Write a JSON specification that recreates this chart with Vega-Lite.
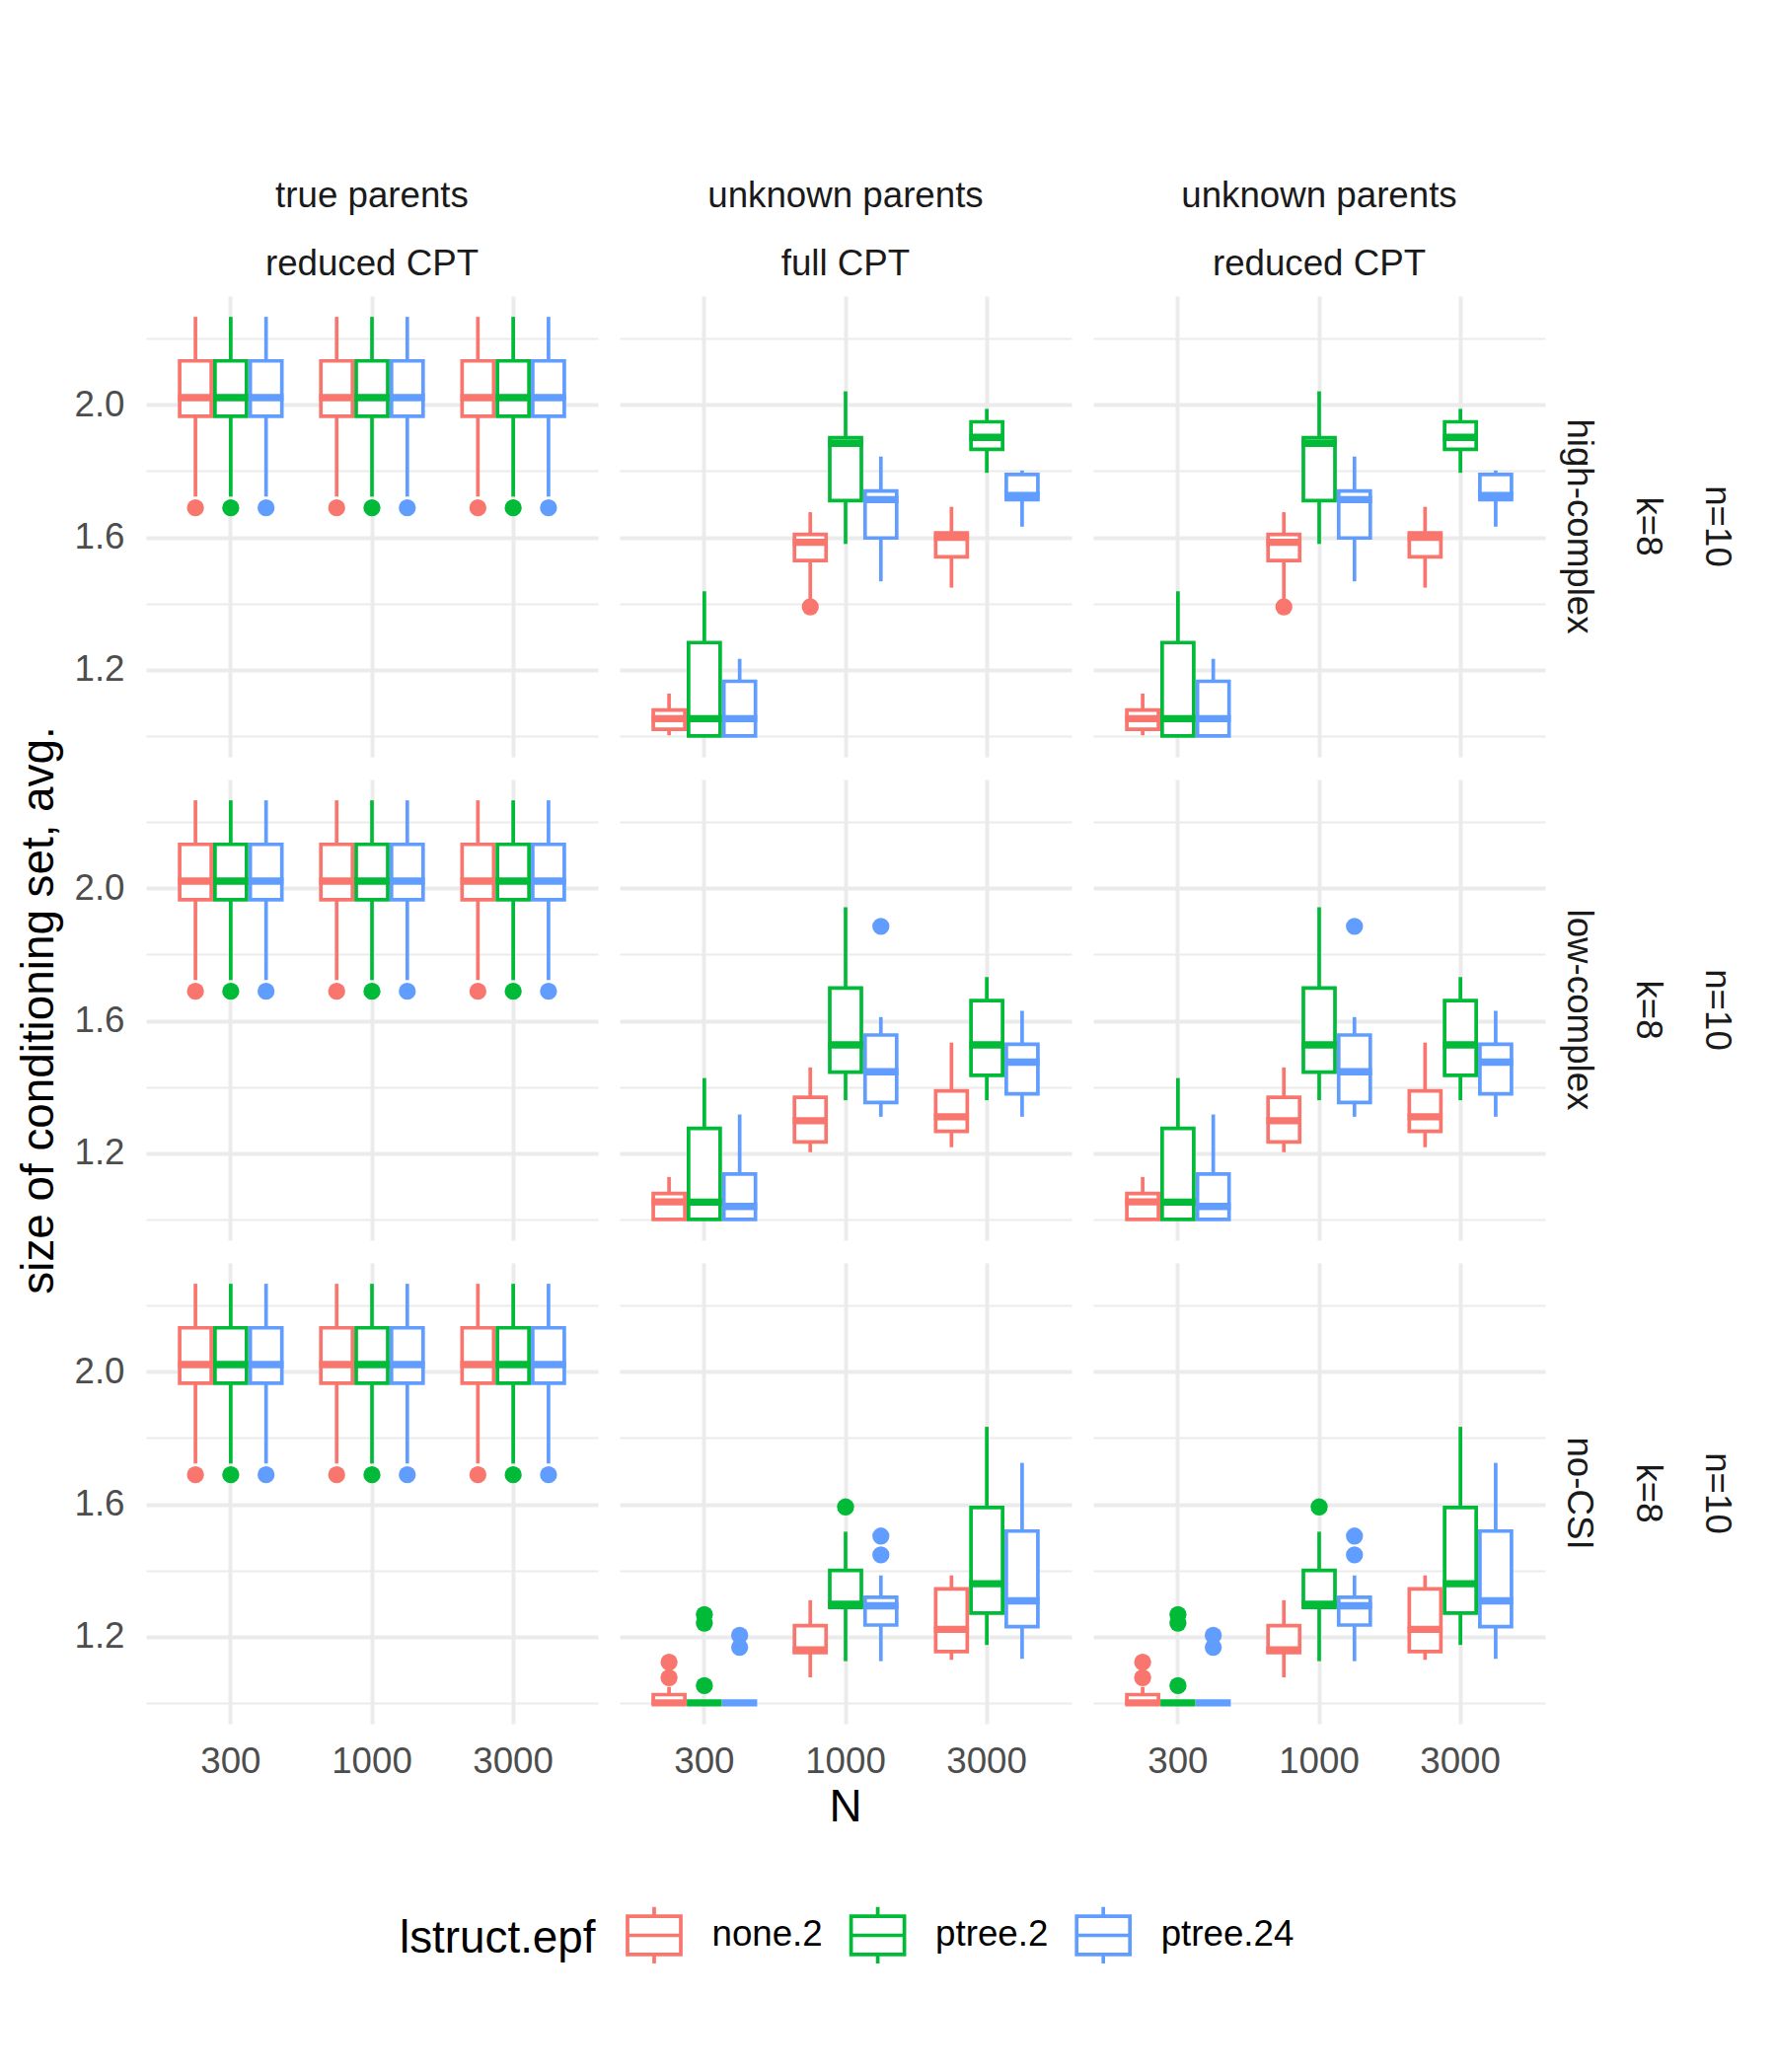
{
"$schema": "https://vega.github.io/schema/vega-lite/v6.json",
"padding": {"left": 16, "top": 180, "right": 5, "bottom": 5},
"background": "white",
"data": {"values": [
{"r":"high-complex","c":"true parents|reduced CPT","n":"300","g":"none.2","lo":1.723,"q1":1.966,"md":2.022,"q3":2.133,"hi":2.266},
{"r":"high-complex","c":"true parents|reduced CPT","n":"300","g":"ptree.2","lo":1.723,"q1":1.966,"md":2.022,"q3":2.133,"hi":2.266},
{"r":"high-complex","c":"true parents|reduced CPT","n":"300","g":"ptree.24","lo":1.723,"q1":1.966,"md":2.022,"q3":2.133,"hi":2.266},
{"r":"high-complex","c":"true parents|reduced CPT","n":"1000","g":"none.2","lo":1.723,"q1":1.966,"md":2.022,"q3":2.133,"hi":2.266},
{"r":"high-complex","c":"true parents|reduced CPT","n":"1000","g":"ptree.2","lo":1.723,"q1":1.966,"md":2.022,"q3":2.133,"hi":2.266},
{"r":"high-complex","c":"true parents|reduced CPT","n":"1000","g":"ptree.24","lo":1.723,"q1":1.966,"md":2.022,"q3":2.133,"hi":2.266},
{"r":"high-complex","c":"true parents|reduced CPT","n":"3000","g":"none.2","lo":1.723,"q1":1.966,"md":2.022,"q3":2.133,"hi":2.266},
{"r":"high-complex","c":"true parents|reduced CPT","n":"3000","g":"ptree.2","lo":1.723,"q1":1.966,"md":2.022,"q3":2.133,"hi":2.266},
{"r":"high-complex","c":"true parents|reduced CPT","n":"3000","g":"ptree.24","lo":1.723,"q1":1.966,"md":2.022,"q3":2.133,"hi":2.266},
{"r":"low-complex","c":"true parents|reduced CPT","n":"300","g":"none.2","lo":1.723,"q1":1.966,"md":2.022,"q3":2.133,"hi":2.266},
{"r":"low-complex","c":"true parents|reduced CPT","n":"300","g":"ptree.2","lo":1.723,"q1":1.966,"md":2.022,"q3":2.133,"hi":2.266},
{"r":"low-complex","c":"true parents|reduced CPT","n":"300","g":"ptree.24","lo":1.723,"q1":1.966,"md":2.022,"q3":2.133,"hi":2.266},
{"r":"low-complex","c":"true parents|reduced CPT","n":"1000","g":"none.2","lo":1.723,"q1":1.966,"md":2.022,"q3":2.133,"hi":2.266},
{"r":"low-complex","c":"true parents|reduced CPT","n":"1000","g":"ptree.2","lo":1.723,"q1":1.966,"md":2.022,"q3":2.133,"hi":2.266},
{"r":"low-complex","c":"true parents|reduced CPT","n":"1000","g":"ptree.24","lo":1.723,"q1":1.966,"md":2.022,"q3":2.133,"hi":2.266},
{"r":"low-complex","c":"true parents|reduced CPT","n":"3000","g":"none.2","lo":1.723,"q1":1.966,"md":2.022,"q3":2.133,"hi":2.266},
{"r":"low-complex","c":"true parents|reduced CPT","n":"3000","g":"ptree.2","lo":1.723,"q1":1.966,"md":2.022,"q3":2.133,"hi":2.266},
{"r":"low-complex","c":"true parents|reduced CPT","n":"3000","g":"ptree.24","lo":1.723,"q1":1.966,"md":2.022,"q3":2.133,"hi":2.266},
{"r":"no-CSI","c":"true parents|reduced CPT","n":"300","g":"none.2","lo":1.723,"q1":1.966,"md":2.022,"q3":2.133,"hi":2.266},
{"r":"no-CSI","c":"true parents|reduced CPT","n":"300","g":"ptree.2","lo":1.723,"q1":1.966,"md":2.022,"q3":2.133,"hi":2.266},
{"r":"no-CSI","c":"true parents|reduced CPT","n":"300","g":"ptree.24","lo":1.723,"q1":1.966,"md":2.022,"q3":2.133,"hi":2.266},
{"r":"no-CSI","c":"true parents|reduced CPT","n":"1000","g":"none.2","lo":1.723,"q1":1.966,"md":2.022,"q3":2.133,"hi":2.266},
{"r":"no-CSI","c":"true parents|reduced CPT","n":"1000","g":"ptree.2","lo":1.723,"q1":1.966,"md":2.022,"q3":2.133,"hi":2.266},
{"r":"no-CSI","c":"true parents|reduced CPT","n":"1000","g":"ptree.24","lo":1.723,"q1":1.966,"md":2.022,"q3":2.133,"hi":2.266},
{"r":"no-CSI","c":"true parents|reduced CPT","n":"3000","g":"none.2","lo":1.723,"q1":1.966,"md":2.022,"q3":2.133,"hi":2.266},
{"r":"no-CSI","c":"true parents|reduced CPT","n":"3000","g":"ptree.2","lo":1.723,"q1":1.966,"md":2.022,"q3":2.133,"hi":2.266},
{"r":"no-CSI","c":"true parents|reduced CPT","n":"3000","g":"ptree.24","lo":1.723,"q1":1.966,"md":2.022,"q3":2.133,"hi":2.266},
{"r":"high-complex","c":"true parents|reduced CPT","n":"300","g":"none.2","v":1.689},
{"r":"high-complex","c":"true parents|reduced CPT","n":"300","g":"ptree.2","v":1.689},
{"r":"high-complex","c":"true parents|reduced CPT","n":"300","g":"ptree.24","v":1.689},
{"r":"high-complex","c":"true parents|reduced CPT","n":"1000","g":"none.2","v":1.689},
{"r":"high-complex","c":"true parents|reduced CPT","n":"1000","g":"ptree.2","v":1.689},
{"r":"high-complex","c":"true parents|reduced CPT","n":"1000","g":"ptree.24","v":1.689},
{"r":"high-complex","c":"true parents|reduced CPT","n":"3000","g":"none.2","v":1.689},
{"r":"high-complex","c":"true parents|reduced CPT","n":"3000","g":"ptree.2","v":1.689},
{"r":"high-complex","c":"true parents|reduced CPT","n":"3000","g":"ptree.24","v":1.689},
{"r":"low-complex","c":"true parents|reduced CPT","n":"300","g":"none.2","v":1.689},
{"r":"low-complex","c":"true parents|reduced CPT","n":"300","g":"ptree.2","v":1.689},
{"r":"low-complex","c":"true parents|reduced CPT","n":"300","g":"ptree.24","v":1.689},
{"r":"low-complex","c":"true parents|reduced CPT","n":"1000","g":"none.2","v":1.689},
{"r":"low-complex","c":"true parents|reduced CPT","n":"1000","g":"ptree.2","v":1.689},
{"r":"low-complex","c":"true parents|reduced CPT","n":"1000","g":"ptree.24","v":1.689},
{"r":"low-complex","c":"true parents|reduced CPT","n":"3000","g":"none.2","v":1.689},
{"r":"low-complex","c":"true parents|reduced CPT","n":"3000","g":"ptree.2","v":1.689},
{"r":"low-complex","c":"true parents|reduced CPT","n":"3000","g":"ptree.24","v":1.689},
{"r":"no-CSI","c":"true parents|reduced CPT","n":"300","g":"none.2","v":1.689},
{"r":"no-CSI","c":"true parents|reduced CPT","n":"300","g":"ptree.2","v":1.689},
{"r":"no-CSI","c":"true parents|reduced CPT","n":"300","g":"ptree.24","v":1.689},
{"r":"no-CSI","c":"true parents|reduced CPT","n":"1000","g":"none.2","v":1.689},
{"r":"no-CSI","c":"true parents|reduced CPT","n":"1000","g":"ptree.2","v":1.689},
{"r":"no-CSI","c":"true parents|reduced CPT","n":"1000","g":"ptree.24","v":1.689},
{"r":"no-CSI","c":"true parents|reduced CPT","n":"3000","g":"none.2","v":1.689},
{"r":"no-CSI","c":"true parents|reduced CPT","n":"3000","g":"ptree.2","v":1.689},
{"r":"no-CSI","c":"true parents|reduced CPT","n":"3000","g":"ptree.24","v":1.689},

{"r":"high-complex","c":"unknown parents|full CPT","n":"300","g":"none.2","lo":1.002,"q1":1.02,"md":1.052,"q3":1.078,"hi":1.128},
{"r":"high-complex","c":"unknown parents|full CPT","n":"300","g":"ptree.2","lo":1.0,"q1":1.0,"md":1.052,"q3":1.282,"hi":1.437},
{"r":"high-complex","c":"unknown parents|full CPT","n":"300","g":"ptree.24","lo":1.0,"q1":1.0,"md":1.052,"q3":1.165,"hi":1.233},
{"r":"high-complex","c":"unknown parents|full CPT","n":"1000","g":"none.2","lo":1.414,"q1":1.53,"md":1.585,"q3":1.609,"hi":1.676},
{"r":"high-complex","c":"unknown parents|full CPT","n":"1000","g":"ptree.2","lo":1.58,"q1":1.711,"md":1.884,"q3":1.901,"hi":2.041},
{"r":"high-complex","c":"unknown parents|full CPT","n":"1000","g":"ptree.24","lo":1.467,"q1":1.598,"md":1.714,"q3":1.74,"hi":1.844},
{"r":"high-complex","c":"unknown parents|full CPT","n":"3000","g":"none.2","lo":1.448,"q1":1.541,"md":1.6,"q3":1.613,"hi":1.692},
{"r":"high-complex","c":"unknown parents|full CPT","n":"3000","g":"ptree.2","lo":1.795,"q1":1.866,"md":1.902,"q3":1.949,"hi":1.988},
{"r":"high-complex","c":"unknown parents|full CPT","n":"3000","g":"ptree.24","lo":1.632,"q1":1.714,"md":1.726,"q3":1.79,"hi":1.802},
{"r":"high-complex","c":"unknown parents|full CPT","n":"1000","g":"none.2","v":1.39},
{"r":"high-complex","c":"unknown parents|reduced CPT","n":"300","g":"none.2","lo":1.002,"q1":1.02,"md":1.052,"q3":1.078,"hi":1.128},
{"r":"high-complex","c":"unknown parents|reduced CPT","n":"300","g":"ptree.2","lo":1.0,"q1":1.0,"md":1.052,"q3":1.282,"hi":1.437},
{"r":"high-complex","c":"unknown parents|reduced CPT","n":"300","g":"ptree.24","lo":1.0,"q1":1.0,"md":1.052,"q3":1.165,"hi":1.233},
{"r":"high-complex","c":"unknown parents|reduced CPT","n":"1000","g":"none.2","lo":1.414,"q1":1.53,"md":1.585,"q3":1.609,"hi":1.676},
{"r":"high-complex","c":"unknown parents|reduced CPT","n":"1000","g":"ptree.2","lo":1.58,"q1":1.711,"md":1.884,"q3":1.901,"hi":2.041},
{"r":"high-complex","c":"unknown parents|reduced CPT","n":"1000","g":"ptree.24","lo":1.467,"q1":1.598,"md":1.714,"q3":1.74,"hi":1.844},
{"r":"high-complex","c":"unknown parents|reduced CPT","n":"3000","g":"none.2","lo":1.448,"q1":1.541,"md":1.6,"q3":1.613,"hi":1.692},
{"r":"high-complex","c":"unknown parents|reduced CPT","n":"3000","g":"ptree.2","lo":1.795,"q1":1.866,"md":1.902,"q3":1.949,"hi":1.988},
{"r":"high-complex","c":"unknown parents|reduced CPT","n":"3000","g":"ptree.24","lo":1.632,"q1":1.714,"md":1.726,"q3":1.79,"hi":1.802},
{"r":"high-complex","c":"unknown parents|reduced CPT","n":"1000","g":"none.2","v":1.39},

{"r":"low-complex","c":"unknown parents|full CPT","n":"300","g":"none.2","lo":1.0,"q1":1.0,"md":1.053,"q3":1.078,"hi":1.128},
{"r":"low-complex","c":"unknown parents|full CPT","n":"300","g":"ptree.2","lo":1.0,"q1":1.0,"md":1.052,"q3":1.275,"hi":1.427},
{"r":"low-complex","c":"unknown parents|full CPT","n":"300","g":"ptree.24","lo":1.0,"q1":1.0,"md":1.039,"q3":1.137,"hi":1.317},
{"r":"low-complex","c":"unknown parents|full CPT","n":"1000","g":"none.2","lo":1.203,"q1":1.234,"md":1.298,"q3":1.369,"hi":1.459},
{"r":"low-complex","c":"unknown parents|full CPT","n":"1000","g":"ptree.2","lo":1.36,"q1":1.445,"md":1.527,"q3":1.699,"hi":1.943},
{"r":"low-complex","c":"unknown parents|full CPT","n":"1000","g":"ptree.24","lo":1.31,"q1":1.353,"md":1.446,"q3":1.557,"hi":1.611},
{"r":"low-complex","c":"unknown parents|full CPT","n":"3000","g":"none.2","lo":1.218,"q1":1.266,"md":1.31,"q3":1.388,"hi":1.534},
{"r":"low-complex","c":"unknown parents|full CPT","n":"3000","g":"ptree.2","lo":1.36,"q1":1.435,"md":1.527,"q3":1.661,"hi":1.732},
{"r":"low-complex","c":"unknown parents|full CPT","n":"3000","g":"ptree.24","lo":1.31,"q1":1.379,"md":1.475,"q3":1.529,"hi":1.63},
{"r":"low-complex","c":"unknown parents|full CPT","n":"1000","g":"ptree.24","v":1.885},
{"r":"low-complex","c":"unknown parents|reduced CPT","n":"300","g":"none.2","lo":1.0,"q1":1.0,"md":1.053,"q3":1.078,"hi":1.128},
{"r":"low-complex","c":"unknown parents|reduced CPT","n":"300","g":"ptree.2","lo":1.0,"q1":1.0,"md":1.052,"q3":1.275,"hi":1.427},
{"r":"low-complex","c":"unknown parents|reduced CPT","n":"300","g":"ptree.24","lo":1.0,"q1":1.0,"md":1.039,"q3":1.137,"hi":1.317},
{"r":"low-complex","c":"unknown parents|reduced CPT","n":"1000","g":"none.2","lo":1.203,"q1":1.234,"md":1.298,"q3":1.369,"hi":1.459},
{"r":"low-complex","c":"unknown parents|reduced CPT","n":"1000","g":"ptree.2","lo":1.36,"q1":1.445,"md":1.527,"q3":1.699,"hi":1.943},
{"r":"low-complex","c":"unknown parents|reduced CPT","n":"1000","g":"ptree.24","lo":1.31,"q1":1.353,"md":1.446,"q3":1.557,"hi":1.611},
{"r":"low-complex","c":"unknown parents|reduced CPT","n":"3000","g":"none.2","lo":1.218,"q1":1.266,"md":1.31,"q3":1.388,"hi":1.534},
{"r":"low-complex","c":"unknown parents|reduced CPT","n":"3000","g":"ptree.2","lo":1.36,"q1":1.435,"md":1.527,"q3":1.661,"hi":1.732},
{"r":"low-complex","c":"unknown parents|reduced CPT","n":"3000","g":"ptree.24","lo":1.31,"q1":1.379,"md":1.475,"q3":1.529,"hi":1.63},
{"r":"low-complex","c":"unknown parents|reduced CPT","n":"1000","g":"ptree.24","v":1.885},

{"r":"no-CSI","c":"unknown parents|full CPT","n":"300","g":"none.2","lo":1.0,"q1":1.0,"md":1.0,"q3":1.025,"hi":1.048},
{"r":"no-CSI","c":"unknown parents|full CPT","n":"300","g":"ptree.2","lo":1.0,"q1":1.0,"md":1.0,"q3":1.0,"hi":1.0},
{"r":"no-CSI","c":"unknown parents|full CPT","n":"300","g":"ptree.24","lo":1.0,"q1":1.0,"md":1.0,"q3":1.0,"hi":1.0},
{"r":"no-CSI","c":"unknown parents|full CPT","n":"1000","g":"none.2","lo":1.077,"q1":1.152,"md":1.16,"q3":1.233,"hi":1.31},
{"r":"no-CSI","c":"unknown parents|full CPT","n":"1000","g":"ptree.2","lo":1.126,"q1":1.288,"md":1.298,"q3":1.4,"hi":1.517},
{"r":"no-CSI","c":"unknown parents|full CPT","n":"1000","g":"ptree.24","lo":1.126,"q1":1.235,"md":1.293,"q3":1.319,"hi":1.385},
{"r":"no-CSI","c":"unknown parents|full CPT","n":"3000","g":"none.2","lo":1.13,"q1":1.155,"md":1.222,"q3":1.344,"hi":1.385},
{"r":"no-CSI","c":"unknown parents|full CPT","n":"3000","g":"ptree.2","lo":1.175,"q1":1.271,"md":1.36,"q3":1.59,"hi":1.834},
{"r":"no-CSI","c":"unknown parents|full CPT","n":"3000","g":"ptree.24","lo":1.133,"q1":1.23,"md":1.308,"q3":1.519,"hi":1.725},
{"r":"no-CSI","c":"unknown parents|full CPT","n":"300","g":"none.2","v":1.076},
{"r":"no-CSI","c":"unknown parents|full CPT","n":"300","g":"none.2","v":1.123},
{"r":"no-CSI","c":"unknown parents|full CPT","n":"300","g":"ptree.2","v":1.052},
{"r":"no-CSI","c":"unknown parents|full CPT","n":"300","g":"ptree.2","v":1.241},
{"r":"no-CSI","c":"unknown parents|full CPT","n":"300","g":"ptree.2","v":1.267},
{"r":"no-CSI","c":"unknown parents|full CPT","n":"300","g":"ptree.24","v":1.168},
{"r":"no-CSI","c":"unknown parents|full CPT","n":"300","g":"ptree.24","v":1.204},
{"r":"no-CSI","c":"unknown parents|full CPT","n":"1000","g":"ptree.2","v":1.592},
{"r":"no-CSI","c":"unknown parents|full CPT","n":"1000","g":"ptree.24","v":1.447},
{"r":"no-CSI","c":"unknown parents|full CPT","n":"1000","g":"ptree.24","v":1.504},
{"r":"no-CSI","c":"unknown parents|reduced CPT","n":"300","g":"none.2","lo":1.0,"q1":1.0,"md":1.0,"q3":1.025,"hi":1.048},
{"r":"no-CSI","c":"unknown parents|reduced CPT","n":"300","g":"ptree.2","lo":1.0,"q1":1.0,"md":1.0,"q3":1.0,"hi":1.0},
{"r":"no-CSI","c":"unknown parents|reduced CPT","n":"300","g":"ptree.24","lo":1.0,"q1":1.0,"md":1.0,"q3":1.0,"hi":1.0},
{"r":"no-CSI","c":"unknown parents|reduced CPT","n":"1000","g":"none.2","lo":1.077,"q1":1.152,"md":1.16,"q3":1.233,"hi":1.31},
{"r":"no-CSI","c":"unknown parents|reduced CPT","n":"1000","g":"ptree.2","lo":1.126,"q1":1.288,"md":1.298,"q3":1.4,"hi":1.517},
{"r":"no-CSI","c":"unknown parents|reduced CPT","n":"1000","g":"ptree.24","lo":1.126,"q1":1.235,"md":1.293,"q3":1.319,"hi":1.385},
{"r":"no-CSI","c":"unknown parents|reduced CPT","n":"3000","g":"none.2","lo":1.13,"q1":1.155,"md":1.222,"q3":1.344,"hi":1.385},
{"r":"no-CSI","c":"unknown parents|reduced CPT","n":"3000","g":"ptree.2","lo":1.175,"q1":1.271,"md":1.36,"q3":1.59,"hi":1.834},
{"r":"no-CSI","c":"unknown parents|reduced CPT","n":"3000","g":"ptree.24","lo":1.133,"q1":1.23,"md":1.308,"q3":1.519,"hi":1.725},
{"r":"no-CSI","c":"unknown parents|reduced CPT","n":"300","g":"none.2","v":1.076},
{"r":"no-CSI","c":"unknown parents|reduced CPT","n":"300","g":"none.2","v":1.123},
{"r":"no-CSI","c":"unknown parents|reduced CPT","n":"300","g":"ptree.2","v":1.052},
{"r":"no-CSI","c":"unknown parents|reduced CPT","n":"300","g":"ptree.2","v":1.241},
{"r":"no-CSI","c":"unknown parents|reduced CPT","n":"300","g":"ptree.2","v":1.267},
{"r":"no-CSI","c":"unknown parents|reduced CPT","n":"300","g":"ptree.24","v":1.168},
{"r":"no-CSI","c":"unknown parents|reduced CPT","n":"300","g":"ptree.24","v":1.204},
{"r":"no-CSI","c":"unknown parents|reduced CPT","n":"1000","g":"ptree.2","v":1.592},
{"r":"no-CSI","c":"unknown parents|reduced CPT","n":"1000","g":"ptree.24","v":1.447},
{"r":"no-CSI","c":"unknown parents|reduced CPT","n":"1000","g":"ptree.24","v":1.504}
]},
"facet": {
  "column": {"field": "c", "type": "nominal", "sort": ["true parents|reduced CPT", "unknown parents|full CPT", "unknown parents|reduced CPT"],
    "header": {"title": "N", "titleOrient": "bottom", "labelOrient": "top", "titleFontSize": 45.8, "titleFontWeight": "normal", "titleColor": "black", "titlePadding": -4,
      "labelExpr": "split(datum.value, '|')", "labelLineHeight": 69, "labelBaseline": "alphabetic", "labelPadding": -15.5}},
  "row": {"field": "r", "type": "nominal", "sort": ["high-complex", "low-complex", "no-CSI"],
    "header": {"title": "size of conditioning set, avg.", "titleOrient": "left", "labelOrient": "right", "titleFontSize": 45.8, "titleFontWeight": "normal", "titleColor": "black", "titlePadding": 0.6,
      "labelAngle": 90, "labelAlign": "center", "labelBaseline": "alphabetic", "labelExpr": "['n=10', 'k=8', datum.value]", "labelLineHeight": 70, "labelPadding": -14}}
},
"spacing": {"row": 23, "column": 22},
"spec": {
  "width": 458,
  "height": 467,
  "encoding": {
    "x": {"field": "n", "type": "ordinal", "title": null,
      "scale": {"domain": ["300", "1000", "3000"], "paddingInner": 0, "paddingOuter": 0.1},
      "axis": {"grid": true, "bandPosition": 0.5, "gridColor": "#EBEBEB", "gridWidth": 4, "ticks": false, "domain": false, "labelAngle": 0, "labelPadding": 20, "labelFontSize": 36.7, "labelColor": "#4D4D4D"}},
    "xOffset": {"field": "g", "type": "nominal", "scale": {"domain": ["none.2", "ptree.2", "ptree.24"], "paddingInner": 0.105, "paddingOuter": 0.5525}}
  },
  "layer": [
    {"transform": [{"filter": "isValid(datum.md)"}],
     "mark": {"type": "rule", "strokeWidth": 3.7},
     "encoding": {
       "y": {"field": "lo", "type": "quantitative", "title": null,
         "scale": {"domain": [0.937, 2.329], "nice": false, "zero": false},
         "axis": {"values": [1.0, 1.2, 1.4, 1.6, 1.8, 2.0, 2.2], "grid": true, "gridColor": "#EBEBEB",
           "gridWidth": {"condition": {"test": "abs(datum.value-1.2)<0.01 || abs(datum.value-1.6)<0.01 || abs(datum.value-2.0)<0.01", "value": 4}, "value": 2},
           "labelExpr": "(abs(datum.value-1.2)<0.01 || abs(datum.value-1.6)<0.01 || abs(datum.value-2.0)<0.01) ? format(datum.value, '.1f') : ''",
           "ticks": false, "domain": false, "labelPadding": 22, "labelFontSize": 36.7, "labelColor": "#4D4D4D"}},
       "y2": {"field": "q1"},
       "stroke": {"field": "g", "type": "nominal",
         "scale": {"domain": ["none.2", "ptree.2", "ptree.24"], "range": ["#F8766D", "#00BA38", "#619CFF"]},
         "legend": {"title": "lstruct.epf", "orient": "none", "legendX": 257, "legendY": 1632, "direction": "horizontal", "titleOrient": "left", "titleFontSize": 45.8, "titleFontWeight": "normal", "titleColor": "black", "titlePadding": 30, "titleBaseline": "middle", "titleLimit": 2000,
           "labelFontSize": 36.7, "labelColor": "black", "labelOffset": 29.5, "labelLimit": 2000, "columnPadding": 20.6,
           "symbolType": "M-1,-0.72H1V0.72H-1ZM-1,0H1M0,-0.72V-1.06M0,0.72V1.06", "symbolSize": 2916, "symbolStrokeWidth": 3.7, "symbolFillColor": "transparent"}}}},
    {"transform": [{"filter": "isValid(datum.md)"}],
     "mark": {"type": "rule", "strokeWidth": 3.7},
     "encoding": {
       "y": {"field": "q3", "type": "quantitative", "title": null, "scale": {"domain": [0.937, 2.329], "nice": false, "zero": false}},
       "y2": {"field": "hi"},
       "stroke": {"field": "g", "type": "nominal"}}},
    {"transform": [{"filter": "isValid(datum.md)"}],
     "mark": {"type": "bar", "filled": false, "fill": "white", "strokeWidth": 3.7},
     "encoding": {
       "y": {"field": "q1", "type": "quantitative", "title": null, "scale": {"domain": [0.937, 2.329], "nice": false, "zero": false}},
       "y2": {"field": "q3"},
       "stroke": {"field": "g", "type": "nominal"}}},
    {"transform": [{"filter": "isValid(datum.md)"}],
     "mark": {"type": "tick", "orient": "horizontal", "thickness": 7.4, "size": 35.5, "opacity": 1},
     "encoding": {
       "y": {"field": "md", "type": "quantitative", "title": null, "scale": {"domain": [0.937, 2.329], "nice": false, "zero": false}},
       "fill": {"field": "g", "type": "nominal", "legend": null,
         "scale": {"domain": ["ptree.24", "ptree.2", "none.2"], "range": ["#619CFF", "#00BA38", "#F8766D"]}}}},
    {"transform": [{"filter": "isValid(datum.v)"}],
     "mark": {"type": "point", "filled": true, "shape": "circle", "size": 300, "opacity": 1},
     "encoding": {
       "y": {"field": "v", "type": "quantitative", "title": null, "scale": {"domain": [0.937, 2.329], "nice": false, "zero": false}},
       "fill": {"field": "g", "type": "nominal", "legend": null}}}
  ]
},
"config": {
  "font": "Liberation Sans",
  "view": {"stroke": null},
  "header": {"labelFont": "Liberation Sans", "labelFontSize": 36.7, "labelColor": "#1A1A1A", "titleFont": "Liberation Sans"},
  "axis": {"labelFont": "Liberation Sans", "titleFont": "Liberation Sans"},
  "legend": {"labelFont": "Liberation Sans", "titleFont": "Liberation Sans"}
}
}
